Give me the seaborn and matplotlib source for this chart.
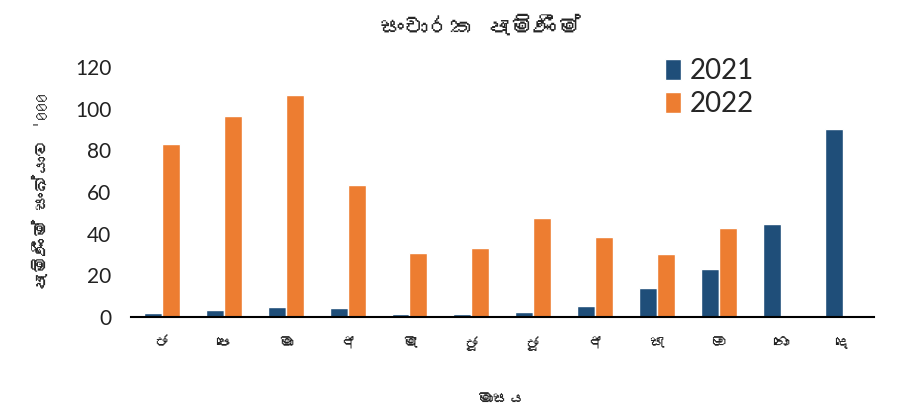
import numpy as np
import pandas as pd
import matplotlib
matplotlib.use("Agg")
import matplotlib.pyplot as plt
import seaborn as sns
from matplotlib import font_manager, ft2font

# --------------------------------------------------
# DATA
# --------------------------------------------------

month_labels = ["ජ", "පෙ", "මා", "අ", "මැ", "ජූ", "ජූ", "අ", "සැ", "ඔ", "නො", "දෙ"]
arrivals_2021 = [2, 3.5, 5, 4.5, 1.5, 1.5, 2.5, 5.5, 14, 23, 44.5, 90]
arrivals_2022 = [83, 96.5, 106.5, 63.5, 30.5, 33, 47.5, 38.5, 30, 42.5, np.nan, np.nan]
years = ["2021", "2022"]

title_text = "සංචාරක පැමිණීම්"
xlabel_text = "මාසය"
# zero width joiner dropped, the font draws it as a visible box
ylabel_text = "පැමිණීම් සංඛ්යාව '000"

# --------------------------------------------------
# FONT (look for anything with sinhala glyphs)
# --------------------------------------------------

found = []
for f in font_manager.fontManager.ttflist:
    try:
        if 0x0DC3 in ft2font.FT2Font(f.fname).get_charmap():
            found.append(f.name)
    except Exception:
        pass
sinhala_font = found[0] if found else None

sns.set_style("white")
plt.rcParams["font.family"] = [sinhala_font, "DejaVu Sans"] if sinhala_font else ["DejaVu Sans"]
num_font = ["Lato", "DejaVu Sans"]

# --------------------------------------------------
# PLOT
# --------------------------------------------------

n = len(month_labels)
df = pd.DataFrame({
    "month": list(range(n)) * 2,
    "value": arrivals_2021 + arrivals_2022,
    "year": [years[0]] * n + [years[1]] * n,
})

fig = plt.figure(figsize=(8.97, 4.16), dpi=100)
ax = fig.add_axes([0.146, 0.238, 0.828, 0.601])

sns.barplot(data=df, x="month", y="value", hue="year", order=list(range(n)),
            palette=["#1F4E79", "#ED7D31"], width=0.58, ax=ax,
            errorbar=None, saturation=1)

ax.set_ylim(0, 120)
ax.set_xlim(-0.5, n - 0.5)
ax.set_yticks(range(0, 121, 20))
ax.set_yticklabels([str(v) for v in range(0, 121, 20)], fontsize=15,
                   color="#222222", family=num_font)
ax.set_xticks(range(n))
ax.set_xticklabels(month_labels, fontsize=11, color="#222222")
ax.tick_params(axis="x", length=0, pad=14)
ax.tick_params(axis="y", length=0, pad=14)

for s in ["top", "right", "left"]:
    ax.spines[s].set_visible(False)
ax.spines["bottom"].set_color("black")
ax.spines["bottom"].set_linewidth(1.5)

ax.set_xlabel(xlabel_text, fontsize=12, labelpad=30)
ax.set_ylabel(ylabel_text, fontsize=13, labelpad=18)

fig.text(0.535, 0.935, title_text, ha="center", va="center",
         fontsize=17, fontweight="bold")

ax.legend(loc="upper left", bbox_to_anchor=(0.685, 1.135), frameon=False,
          handlelength=0.6, handleheight=0.8, handletextpad=0.3,
          labelspacing=0.25, prop={"family": num_font, "size": 20})

fig.savefig("out.png", dpi=100)
